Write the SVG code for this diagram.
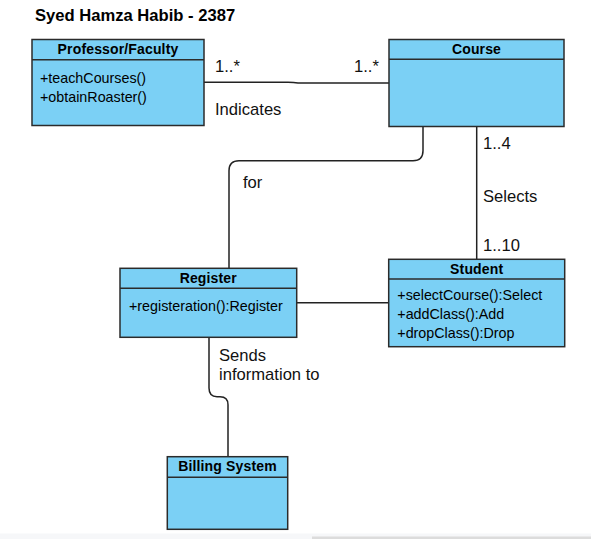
<svg xmlns="http://www.w3.org/2000/svg" width="591" height="539" viewBox="0 0 591 539">
<style>
.box{fill:#7bd0f5;stroke:#2b2b2b;stroke-width:1.5}
.sep{stroke:#2b2b2b;stroke-width:1.5}
.hd{font-family:"Liberation Sans",Arial,sans-serif;font-weight:bold;font-size:14px;letter-spacing:0.15px;fill:#000;text-anchor:middle}
.mb{font-family:"Liberation Sans",Arial,sans-serif;font-size:14.3px;fill:#000}
.lb{font-family:"Liberation Sans",Arial,sans-serif;font-size:16.6px;fill:#111}
.ln{fill:none;stroke:#222;stroke-width:1.5}
</style>
<rect x="0" y="0" width="591" height="539" fill="#fff"/>
<rect x="0" y="533.5" width="591" height="5.5" fill="#f6f7f9"/>
<rect x="312" y="536.5" width="279" height="2.5" fill="#dcdcdc"/>
<text x="35" y="21" font-family="'Liberation Sans',Arial,sans-serif" font-weight="bold" font-size="16.6px" fill="#000">Syed Hamza Habib - 2387</text>
<g id="connectors">
<path class="ln" d="M204,82.3 L288,82.3 Q294,82.3 298,83 L389,83"/>
<path class="ln" d="M423,126.7 L423,150.7 Q423,160.7 413,160.7 L239,160.7 Q229,160.7 229,170.7 L229,268.3"/>
<path class="ln" d="M476.7,126.7 L476.7,259.3"/>
<path class="ln" d="M296.7,302.7 L388.7,302.7"/>
<path class="ln" d="M209,337.3 L209,388 Q209,396.7 217,396.7 L220,396.7 Q228,396.7 228,404.7 L228,456.7"/>
<text class="lb" x="215" y="71.5">1..*</text>
<text class="lb" x="354" y="71.5">1..*</text>
<text class="lb" x="215" y="115">Indicates</text>
<text class="lb" x="243" y="188">for</text>
<text class="lb" x="483" y="148.5">1..4</text>
<text class="lb" x="483" y="201.5">Selects</text>
<text class="lb" x="483" y="250.5">1..10</text>
<text class="lb" x="219" y="361">Sends</text>
<text class="lb" x="219" y="379.5">information to</text>
</g>
<g id="professor">
<rect class="box" x="32" y="39.5" width="172" height="86"/>
<line class="sep" x1="32" y1="59.7" x2="204" y2="59.7"/>
<text class="hd" x="118" y="53.5">Professor/Faculty</text>
<text class="mb" x="40" y="82.5">+teachCourses()</text>
<text class="mb" x="40" y="101.5">+obtainRoaster()</text>
</g>
<g id="course">
<rect class="box" x="389" y="39.5" width="175" height="87"/>
<line class="sep" x1="389" y1="59.3" x2="564" y2="59.3"/>
<text class="hd" x="476.5" y="53.5">Course</text>
</g>
<g id="register">
<rect class="box" x="120" y="268.3" width="176.7" height="69"/>
<line class="sep" x1="120" y1="288.3" x2="296.7" y2="288.3"/>
<text class="hd" x="208.3" y="282.5">Register</text>
<text class="mb" x="129" y="311">+registeration():Register</text>
</g>
<g id="student">
<rect class="box" x="388.7" y="259.3" width="176" height="87.4"/>
<line class="sep" x1="388.7" y1="279" x2="564.7" y2="279"/>
<text class="hd" x="476.7" y="273.5">Student</text>
<text class="mb" x="397.3" y="299.5">+selectCourse():Select</text>
<text class="mb" x="397.3" y="318.5">+addClass():Add</text>
<text class="mb" x="397.3" y="337.5">+dropClass():Drop</text>
</g>
<g id="billing">
<rect class="box" x="167.3" y="456.7" width="120.4" height="72.6"/>
<line class="sep" x1="167.3" y1="477.3" x2="287.7" y2="477.3"/>
<text class="hd" x="227.5" y="471">Billing System</text>
</g>
</svg>
